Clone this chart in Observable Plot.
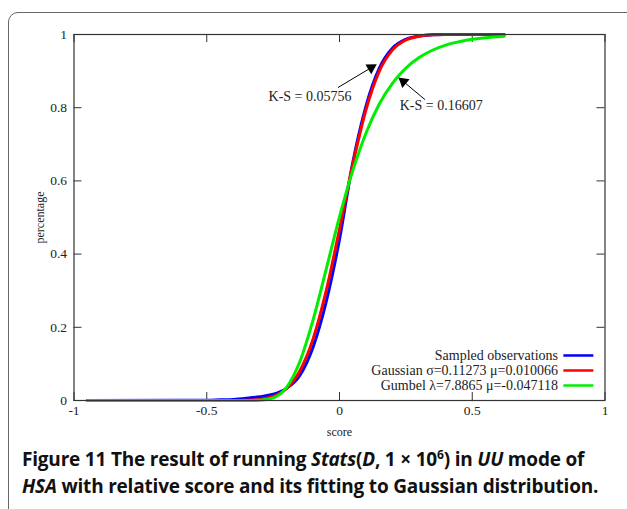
<!DOCTYPE html>
<html><head><meta charset="utf-8">
<script src="https://cdn.jsdelivr.net/npm/d3@7"></script>
<script src="https://cdn.jsdelivr.net/npm/@observablehq/plot@0.6"></script>
<style>
body{margin:0;background:#fff;width:627px;height:509px;overflow:hidden;position:relative;}
#box{position:absolute;left:8px;top:12px;width:700px;height:600px;border:1.5px solid #666;border-radius:10px;}
#chart{position:absolute;left:0;top:0;}
#cap{position:absolute;left:22px;top:446px;width:600px;font-family:"Open Sans",sans-serif;font-weight:700;font-size:19px;line-height:27px;color:#111;letter-spacing:-0.2px;}
</style></head><body>
<div id="box"></div>
<div id="chart"></div>
<div id="cap">Figure 11 The result of running <i>Stats</i>(<i>D</i>, 1 × 10<sup style="font-size:12px;line-height:0">6</sup>) in <i>UU</i> mode of<br><i>HSA</i> with relative score and its fitting to Gaussian distribution.</div>
<script>
const score    = [-0.95, -0.6, -0.5, -0.45, -0.4, -0.35, -0.3, -0.25, -0.2, -0.15, -0.1, -0.05, 0, 0.05, 0.1, 0.15, 0.2, 0.25, 0.3, 0.35, 0.4, 0.45, 0.5, 0.55, 0.62];
const sampled  = [0, 0.0005, 0.001, 0.002, 0.003, 0.006, 0.010, 0.017, 0.033, 0.068, 0.145, 0.27, 0.44, 0.65, 0.805, 0.908, 0.963, 0.987, 0.996, 0.999, 1, 1, 1, 1, 1];
const gaussian = [0, 0, 0, 0, 0, 0.0007, 0.003, 0.011, 0.032, 0.080, 0.167, 0.300, 0.468, 0.645, 0.795, 0.900, 0.958, 0.985, 0.995, 0.999, 1, 1, 1, 1, 1];
const gumbel   = [0, 0, 0, 0, 0, 0.00002, 0.0006, 0.007, 0.035, 0.105, 0.219, 0.359, 0.502, 0.628, 0.731, 0.810, 0.867, 0.908, 0.937, 0.957, 0.971, 0.980, 0.987, 0.991, 0.995];
const xTicks = [-1, -0.5, 0, 0.5, 1];
const yTicks = [0, 0.2, 0.4, 0.6, 0.8, 1];
const seriesNames  = ["Sampled observations", "Gaussian σ=0.11273 μ=0.010066", "Gumbel λ=7.8865 μ=-0.047118"];
const seriesColors = ["#0000ff", "#ff0000", "#00ee00"];
const seriesValues = [sampled, gaussian, gumbel];
// annotations (data coordinates)
const annLabels = ["K-S = 0.05756", "K-S = 0.16607"];
const annText   = [[-0.111, 0.830], [0.383, 0.805]];
const annFrom   = [[-0.006, 0.855], [0.322, 0.822]];
const annTo     = [[0.137, 0.917], [0.225, 0.881]];

const W = 627, H = 446, mL = 73.5, mR = 22.5, mT = 34, mB = 46;
const pxX = (W - mL - mR) / 2, pxY = H - mT - mB;
const rows = [];
seriesValues.forEach((vals, s) => score.forEach((x, i) => rows.push({x, y: vals[i], s})));
const ann = annLabels.map((t, i) => {
  const [x1, y1] = annFrom[i], [x2, y2] = annTo[i];
  const sx = (x2 - x1) * pxX, sy = -(y2 - y1) * pxY, L = Math.hypot(sx, sy);
  const ux = sx / L, uy = sy / L, back = 5.5;
  return {t, tx: annText[i][0], ty: annText[i][1], x1, y1, x2, y2,
    hx: x2 - ux * back / pxX, hy: y2 + uy * back / pxY,
    rot: Math.atan2(ux, -uy) * 180 / Math.PI};
});
const leg = seriesNames.map((n, i) => ({n, c: seriesColors[i], y: 0.123 - i * 0.041}));

const kx = 8 / pxX, ky = 8 / pxY;
const serif = "'Liberation Serif', 'DejaVu Serif', serif";
const chart = Plot.plot({
  width: W, height: H,
  marginLeft: mL, marginRight: mR, marginTop: mT, marginBottom: mB,
  style: {fontFamily: serif, fontSize: "13px", color: "#222", background: "transparent"},
  x: {domain: [-1, 1], ticks: xTicks, tickFormat: d => String(d), label: null},
  y: {domain: [0, 1], ticks: yTicks, tickFormat: d => String(d), label: null},
  marks: [
    Plot.axisX(xTicks, {tickSize: 0, tickPadding: 5, tickFormat: d => String(d), fontSize: 13.5}),
    Plot.axisY(yTicks, {tickSize: 0, tickPadding: 7, tickFormat: d => String(d), fontSize: 13.5}),
    Plot.ruleX(xTicks, {x: d => d, y1: 0, y2: ky, stroke: "#333"}),
    Plot.ruleX(xTicks, {x: d => d, y1: 1 - ky, y2: 1, stroke: "#333"}),
    Plot.ruleY(yTicks, {y: d => d, x1: -1, x2: -1 + kx, stroke: "#333"}),
    Plot.ruleY(yTicks, {y: d => d, x1: 1 - kx, x2: 1, stroke: "#333"}),
    Plot.line(rows, {x: "x", y: "y", z: "s", stroke: d => seriesColors[d.s], strokeWidth: 3, curve: "monotone-x"}),
    Plot.frame({stroke: "#333", strokeWidth: 1.2}),
    Plot.link(ann, {x1: "x1", y1: "y1", x2: "hx", y2: "hy", stroke: "#000", strokeWidth: 1}),
    Plot.dot(ann, {x: "hx", y: "hy", symbol: "triangle", r: 4.2, fill: "#000", stroke: "none", rotate: "rot"}),
    Plot.text(ann, {x: "tx", y: "ty", text: "t", fontSize: 14, fill: "#222"}),
    Plot.text(leg, {x: 0.823, y: "y", text: "n", textAnchor: "end", fontSize: 14, fill: "#222"}),
    Plot.ruleY(leg, {y: "y", x1: 0.845, x2: 0.958, stroke: "c", strokeWidth: 2.5}),
    Plot.text(["score"], {x: 0, y: 0, dy: 32, text: d => d, fontSize: 12, fill: "#222"}),
    Plot.text(["percentage"], {x: -1, y: 0.5, dx: -34, text: d => d, rotate: -90, fontSize: 12, fill: "#222"})
  ]
});
document.getElementById("chart").appendChild(chart);
</script>
</body></html>
